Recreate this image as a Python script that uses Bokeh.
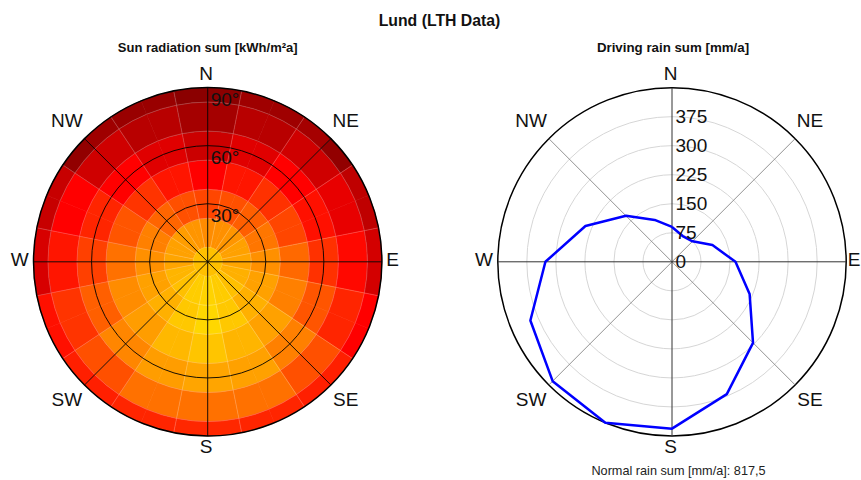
import math
from bokeh.plotting import figure
from bokeh.layouts import column, row
from bokeh.models import Range1d, ColumnDataSource, LinearColorMapper
from bokeh.core.properties import value
from bokeh.embed import file_html
from bokeh.resources import INLINE

# ---------------- data ----------------
main_title = "Lund (LTH Data)"
sun_title = "Sun radiation sum [kWh/m²a]"
rain_title = "Driving rain sum [mm/a]"
rain_note = "Normal rain sum [mm/a]: 817,5"

compass_labels = ["N", "NE", "E", "SE", "S", "SW", "W", "NW"]
compass_angles = [0, 45, 90, 135, 180, 225, 270, 315]

# Sun radiation: azimuth bins (deg clockwise from N), 11.25 deg wide
sun_az_start = [0, 11.25, 22.5, 33.75, 45, 56.25, 67.5, 78.75,
                90, 101.25, 112.5, 123.75, 135, 146.25, 157.5, 168.75,
                180, 191.25, 202.5, 213.75, 225, 236.25, 247.5, 258.75,
                270, 281.25, 292.5, 303.75, 315, 326.25, 337.5, 348.75]
sun_az_width = 11.25
# tilt rings (deg from horizontal), ring edges
sun_tilt_edges = [0, 7.5, 22.5, 37.5, 52.5, 67.5, 82.5, 90]
sun_tilt_ticks = [30, 60, 90]
sun_tilt_labels = ["30°", "60°", "90°"]

sun_tilt0 = 1015
sun_tilt15 = [842, 848, 848, 855, 855, 873, 873, 880, 880, 935, 935, 1015, 1015, 1075, 1075, 1110,
              1110, 1080, 1080, 1015, 1015, 960, 960, 880, 880, 873, 873, 867, 867, 855, 855, 842]
sun_tilt30 = [735, 750, 750, 775, 775, 808, 808, 848, 848, 873, 873, 935, 935, 1055, 1055, 1130,
              1130, 1055, 1055, 935, 935, 873, 873, 848, 848, 824, 824, 783, 783, 751, 751, 735]
sun_tilt45 = [630, 662, 662, 703, 703, 735, 735, 790, 790, 824, 824, 873, 873, 960, 960, 1040,
              1040, 975, 975, 868, 868, 842, 842, 800, 800, 759, 759, 710, 710, 662, 662, 630]
sun_tilt60 = [520, 563, 563, 630, 630, 655, 655, 703, 703, 759, 759, 824, 824, 873, 873, 880,
              880, 868, 868, 832, 832, 775, 775, 727, 727, 686, 686, 630, 630, 563, 563, 520]
sun_tilt75 = [436, 477, 477, 529, 529, 580, 580, 642, 642, 686, 686, 751, 751, 800, 800, 800,
              800, 800, 800, 751, 751, 710, 710, 662, 662, 630, 630, 529, 529, 477, 477, 436]
sun_tilt90 = [380, 425, 425, 436, 395, 494, 494, 538, 538, 630, 630, 678, 678, 686, 686, 690,
              690, 686, 686, 678, 678, 655, 655, 545, 545, 511, 511, 395, 425, 412, 412, 380]
sun_low, sun_high = 380, 1130

# Driving rain (mm/a) for 16 directions
rain_az = [0, 22.5, 45, 67.5, 90, 112.5, 135, 157.5, 180, 202.5, 225, 247.5, 270, 292.5, 315, 337.5]
rain_values = [90, 72, 75, 113, 164, 217, 296, 370, 431, 450, 436, 396, 327, 242, 168, 117]
rain_ticks = [0, 75, 150, 225, 300, 375]
rain_max = 450

# ---------------- style / layout ----------------
FONT = value("Liberation Sans")
TOTAL_W = 861
HEAD_H = 38
PLOT_H = 442
P1_W, P2_W = 430, 431
C1 = (207.2, 223.3)
C2 = (241.5, 223.3)
R_PX = 174.2


def make_palette(anchors, n=256):
    rgb = [tuple(int(a[i:i + 2], 16) for i in (1, 3, 5)) for a in anchors]
    out = []
    for k in range(n):
        t = k / (n - 1) * (len(rgb) - 1)
        i = min(int(t), len(rgb) - 2)
        f = t - i
        c = [round(rgb[i][j] + (rgb[i + 1][j] - rgb[i][j]) * f) for j in range(3)]
        out.append("#%02x%02x%02x" % tuple(c))
    return out


palette = make_palette(["#8b0000", "#ff0000", "#ffa500", "#ffd700"])
mapper = LinearColorMapper(palette=palette, low=sun_low, high=sun_high)


def polar_fig(w, h, center, rmax):
    s = R_PX / rmax
    cx, cy = center
    p = figure(width=w, height=h,
               x_range=Range1d(-cx / s, (w - cx) / s),
               y_range=Range1d(-(h - cy) / s, cy / s),
               toolbar_location=None, output_backend="svg",
               x_axis_location=None, y_axis_location=None, min_border=0)
    p.grid.visible = False
    p.outline_line_color = None
    p.background_fill_color = "white"
    p.border_fill_color = "white"
    return p, s


def ang(a_deg):
    return math.radians(90 - a_deg)


def compass(p, s, east_shift=0.0):
    xs, ys = [], []
    for lab, a in zip(compass_labels, compass_angles):
        r = (186.5 if a % 90 == 0 else 197.2) / s
        xs.append(r * math.sin(math.radians(a)) - (east_shift / s if a == 90 else 0))
        ys.append(r * math.cos(math.radians(a)))
    p.text(x=xs, y=ys, text=compass_labels, text_font=FONT, text_font_size="19px",
           text_align="center", text_baseline="middle", text_color="#111111",
           x_offset=-1.5, y_offset=-2)


# ---------------- header ----------------
head = figure(width=TOTAL_W, height=HEAD_H, x_range=Range1d(0, TOTAL_W), y_range=Range1d(0, HEAD_H),
              toolbar_location=None, output_backend="svg",
              x_axis_location=None, y_axis_location=None, min_border=0)
head.grid.visible = False
head.outline_line_color = None
head.text(x=[439], y=[HEAD_H - 19.5], text=[main_title], text_font=FONT, text_font_size="15.8px",
          text_font_style="bold", text_align="center", text_baseline="middle", text_color="#111111")

# ---------------- sun radiation polar ----------------
p1, s1 = polar_fig(P1_W, PLOT_H, C1, 90)
rings = [sun_tilt15, sun_tilt30, sun_tilt45, sun_tilt60, sun_tilt75, sun_tilt90]
ri, ro, sa, ea, vv = [], [], [], [], []
for k, vals in enumerate(rings):
    for a0, v in zip(sun_az_start, vals):
        ri.append(sun_tilt_edges[k + 1])
        ro.append(sun_tilt_edges[k + 2])
        sa.append(ang(a0 + sun_az_width))
        ea.append(ang(a0))
        vv.append(v)
src = ColumnDataSource(dict(ri=ri, ro=ro, sa=sa, ea=ea, v=vv))
p1.annular_wedge(x=0, y=0, inner_radius="ri", outer_radius="ro", start_angle="sa", end_angle="ea",
                 source=src, fill_color={"field": "v", "transform": mapper},
                 line_color={"field": "v", "transform": mapper}, line_width=0.6)
csrc = ColumnDataSource(dict(x=[0], y=[0], v=[sun_tilt0]))
p1.circle(x="x", y="y", radius=sun_tilt_edges[1], source=csrc,
          fill_color={"field": "v", "transform": mapper}, line_color={"field": "v", "transform": mapper},
          line_width=0.6)

# faint cell seams (16 sectors)
seam_ri, seam_ro, seam_sa, seam_ea = [], [], [], []
for k in range(1, len(sun_tilt_edges) - 1):
    for a in rain_az:
        seam_ri.append(sun_tilt_edges[k])
        seam_ro.append(sun_tilt_edges[k + 1])
        seam_sa.append(ang(a + 11.25))
        seam_ea.append(ang(a - 11.25))
p1.annular_wedge(x=0, y=0, inner_radius=seam_ri, outer_radius=seam_ro, start_angle=seam_sa,
                 end_angle=seam_ea, fill_alpha=0, line_color="white", line_alpha=0.2, line_width=0.6)

# grid
p1.circle(x=[0, 0], y=[0, 0], radius=sun_tilt_ticks[:2], fill_color=None, line_color="black", line_width=0.9)
p1.circle(x=[0], y=[0], radius=90, fill_color=None, line_color="black", line_width=1.5)
for a in [0, 45, 90, 135]:
    dx, dy = 90 * math.sin(math.radians(a)), 90 * math.cos(math.radians(a))
    p1.segment(x0=[-dx], y0=[-dy], x1=[dx], y1=[dy], line_color="black", line_width=0.9)
p1.text(x=[3 / s1] * 3, y=sun_tilt_ticks, text=sun_tilt_labels, text_font=FONT, text_font_size="19px",
        text_align="left", text_baseline="middle", y_offset=11.5, text_color="#111111")
compass(p1, s1)
p1.text(x=[0], y=[214.3 / s1], text=[sun_title], text_font=FONT, text_font_size="13px",
        text_font_style="bold", text_align="center", text_baseline="middle", text_color="#111111")

# ---------------- driving rain polar ----------------
p2, s2 = polar_fig(P2_W, PLOT_H, C2, rain_max)
p2.circle(x=[0] * 5, y=[0] * 5, radius=rain_ticks[1:], fill_color=None, line_color="#d6d6d6", line_width=1)
p2.circle(x=[0], y=[0], radius=rain_max, fill_color=None, line_color="black", line_width=1.5)
for a in [45, 135]:
    dx, dy = rain_max * math.sin(math.radians(a)), rain_max * math.cos(math.radians(a))
    p2.segment(x0=[-dx], y0=[-dy], x1=[dx], y1=[dy], line_color="#777777", line_width=0.8)
for a in [0, 90]:
    dx, dy = rain_max * math.sin(math.radians(a)), rain_max * math.cos(math.radians(a))
    p2.segment(x0=[-dx], y0=[-dy], x1=[dx], y1=[dy], line_color="#333333", line_width=1)
rx = [v * math.sin(math.radians(a)) for a, v in zip(rain_az, rain_values)]
ry = [v * math.cos(math.radians(a)) for a, v in zip(rain_az, rain_values)]
p2.line(x=rx + rx[:1], y=ry + ry[:1], line_color="#0000ff", line_width=2.5)
p2.text(x=[3.5 / s2] * len(rain_ticks), y=rain_ticks, text=[str(t) for t in rain_ticks], text_font=FONT,
        text_font_size="19px", text_align="left", text_baseline="middle", text_color="#111111")
compass(p2, s2, east_shift=3.0)
p2.text(x=[1 / s2], y=[214.3 / s2], text=[rain_title], text_font=FONT, text_font_size="13.3px",
        text_font_style="bold", text_align="center", text_baseline="middle", text_color="#111111")
p2.text(x=[6.5 / s2], y=[-209.5 / s2], text=[rain_note], text_font=FONT, text_font_size="12.7px",
        text_align="center", text_baseline="middle", text_color="#222222")

layout = column(head, row(p1, p2))
open("out.html", "w").write(file_html(layout, INLINE))
